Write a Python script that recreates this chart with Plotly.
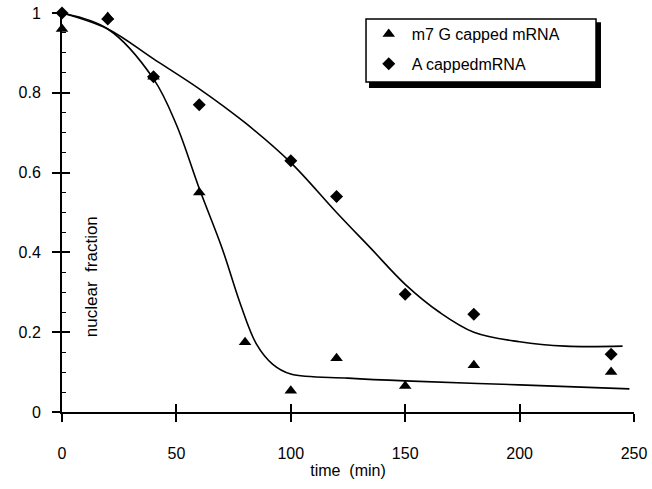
import plotly.graph_objects as go

# measured data
time_pts = [0, 20, 40, 60, 80, 100, 120, 150, 180, 240]
m7g_vals = [0.96, 0.99, 0.84, 0.55, 0.175, 0.053, 0.135, 0.065, 0.117, 0.10]
a_time = [0, 20, 40, 60, 100, 120, 150, 180, 240]
a_vals = [1.0, 0.985, 0.84, 0.77, 0.63, 0.54, 0.295, 0.245, 0.145]

# fitted curves
m7g_fit_t = [0, 20, 40, 50, 60, 70, 78, 85, 92, 100, 125, 150, 200, 248]
m7g_fit_y = [1.0, 0.96, 0.835, 0.72, 0.56, 0.41, 0.27, 0.17, 0.12, 0.095, 0.085, 0.078, 0.068, 0.058]
a_fit_t = [0, 20, 40, 60, 80, 100, 120, 135, 150, 165, 180, 200, 220, 245]
a_fit_y = [1.0, 0.96, 0.885, 0.81, 0.725, 0.625, 0.50, 0.41, 0.32, 0.25, 0.20, 0.176, 0.165, 0.165]

x_ticks = [0, 50, 100, 150, 200, 250]
y_ticks = [0, 0.2, 0.4, 0.6, 0.8, 1]
y_tick_labels = ["0", "0.2", "0.4", "0.6", "0.8", "1"]

FONT = "Liberation Sans, Arial, sans-serif"

fig = go.Figure()
fig.add_trace(go.Scatter(x=m7g_fit_t, y=m7g_fit_y, mode="lines",
                         line=dict(color="black", width=1.6, shape="spline", smoothing=1),
                         showlegend=False, hoverinfo="skip", cliponaxis=False))
fig.add_trace(go.Scatter(x=a_fit_t, y=a_fit_y, mode="lines",
                         line=dict(color="black", width=1.6, shape="spline", smoothing=1),
                         showlegend=False, hoverinfo="skip", cliponaxis=False))
fig.add_trace(go.Scatter(x=time_pts, y=m7g_vals, mode="markers", name="m7 G capped mRNA",
                         legendgroup="g1",
                         marker=dict(symbol="triangle-up", size=11, color="black"),
                         cliponaxis=False))
fig.add_trace(go.Scatter(x=a_time, y=a_vals, mode="markers", name="A cappedmRNA",
                         legendgroup="g2",
                         marker=dict(symbol="diamond", size=10, color="black"),
                         cliponaxis=False))
# invisible trace for the overlay axes (inside tick halves)
fig.add_trace(go.Scatter(x=[0], y=[0], xaxis="x2", yaxis="y2", mode="markers",
                         marker=dict(opacity=0), showlegend=False, hoverinfo="skip"))

common = dict(showgrid=False, zeroline=False, showline=True, linecolor="black",
              linewidth=2, tickcolor="black", tickwidth=1.5, automargin=False,
              ticklabeloverflow="allow")

fig.update_layout(
    width=652, height=489,
    margin=dict(l=62, r=18, t=13, b=77),
    paper_bgcolor="white", plot_bgcolor="white",
    font=dict(family=FONT, size=16, color="black"),
    xaxis=dict(range=[0, 250], tickvals=x_ticks, ticks="outside", ticklen=8,
               ticklabelstandoff=18,
               title=dict(text="time  (min)", font=dict(size=16), standoff=4),
               tickfont=dict(size=16), **common),
    yaxis=dict(range=[0, 1], tickvals=y_ticks, ticktext=y_tick_labels,
               ticks="outside", ticklen=8, tickfont=dict(size=16),
               ticklabelstandoff=8,
               minor=dict(dtick=0.05, ticks="inside", ticklen=4, tickcolor="black", tickwidth=1.2),
               **common),
    xaxis2=dict(range=[0, 250], overlaying="x", anchor="y2", tickvals=x_ticks,
                ticks="inside", ticklen=8, showticklabels=False, **common),
    yaxis2=dict(range=[0, 1], overlaying="y", anchor="x2", tickvals=y_ticks,
                ticks="inside", ticklen=8, showticklabels=False, **common),
    legend=dict(x=0.531, y=0.99, xanchor="left", yanchor="top",
                bgcolor="rgba(0,0,0,0)", borderwidth=0,
                font=dict(size=16, family=FONT), traceorder="grouped",
                tracegroupgap=6, itemwidth=36),
    showlegend=True,
)

# legend frame with drop shadow
fig.add_shape(type="rect", xref="paper", yref="paper",
              x0=0.5367, x1=0.9423, y0=0.812, y1=0.977,
              fillcolor="black", line=dict(width=0), layer="above")
fig.add_shape(type="rect", xref="paper", yref="paper",
              x0=0.5315, x1=0.9336, y0=0.827, y1=0.985,
              fillcolor="white", line=dict(color="black", width=1.5), layer="above")

fig.add_annotation(text="nuclear  fraction", x=0.0507, y=0.338, xref="paper", yref="paper",
                   xanchor="center", yanchor="middle",
                   textangle=-90, showarrow=False, font=dict(size=17, family=FONT))

fig.write_html("out.html", config={"displayModeBar": False},
               post_script="document.body.style.margin='0';")
